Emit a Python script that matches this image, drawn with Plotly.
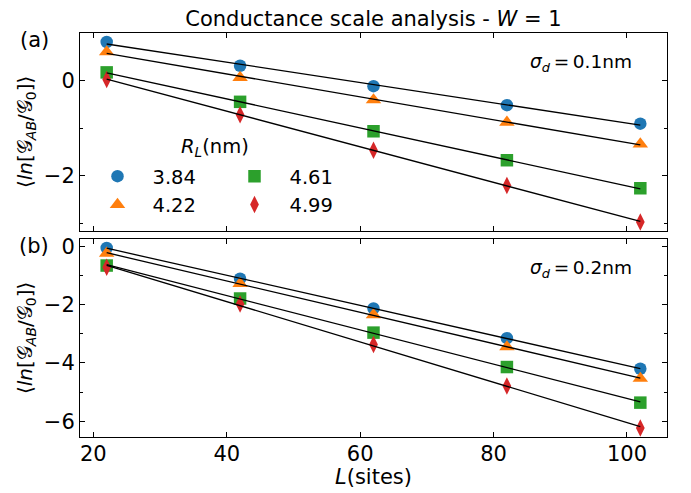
import numpy as np
import plotly.graph_objects as go
from plotly.subplots import make_subplots

# ---------------- data ----------------
L_sites = [22, 42, 62, 82, 102]
R_L_labels = ["3.84", "4.22", "4.61", "4.99"]

# panel (a): sigma_d = 0.1 nm
a_384 = [0.82, 0.32, -0.11, -0.51, -0.90]
a_422 = [0.61, 0.07, -0.40, -0.87, -1.33]
a_461 = [0.18, -0.44, -1.06, -1.67, -2.26]
a_499 = [0.03, -0.71, -1.46, -2.20, -2.97]

# panel (b): sigma_d = 0.2 nm
b_384 = [-0.06, -1.11, -2.13, -3.15, -4.20]
b_422 = [-0.24, -1.28, -2.35, -3.45, -4.53]
b_461 = [-0.66, -1.79, -2.96, -4.14, -5.36]
b_499 = [-0.72, -1.98, -3.37, -4.79, -6.23]

x_ticks = [20, 40, 60, 80, 100]
colors = ["#1f77b4", "#ff7f0e", "#2ca02c", "#d62728"]
symbols = ["circle", "triangle-up", "square", "diamond-tall"]
sizes = [12.5, 13.5, 12.5, 12.5]

FONT = "DejaVu Sans"
W, H = 691, 493
ML, MR, MT, MB = 80, 24, 33, 56
PH = H - MT - MB
PW = W - ML - MR

fig = make_subplots(rows=2, cols=1, shared_xaxes=True, vertical_spacing=0.02)

panels = [(1, [a_384, a_422, a_461, a_499]), (2, [b_384, b_422, b_461, b_499])]
for row, series in panels:
    for i, ys in enumerate(series):
        legend_name = "legend" if i < 2 else "legend2"
        fig.add_trace(go.Scatter(
            x=L_sites, y=ys, mode="markers", name=R_L_labels[i],
            marker=dict(color=colors[i], symbol=symbols[i], size=sizes[i], line=dict(width=0)),
            showlegend=(row == 1), legend=legend_name,
        ), row=row, col=1)
    for i, ys in enumerate(series):
        k, c = np.polyfit(L_sites, ys, 1)
        xs = np.array([L_sites[0], L_sites[-1]], dtype=float)
        fig.add_trace(go.Scatter(
            x=xs, y=k * xs + c, mode="lines", line=dict(color="black", width=1.3),
            showlegend=False, hoverinfo="skip",
        ), row=row, col=1)


def yrange(series):
    lo = min(min(s) for s in series)
    hi = max(max(s) for s in series)
    m = 0.05 * (hi - lo)
    return [lo - m, hi + m]


axis_common = dict(
    showline=True, linecolor="black", linewidth=1, mirror="allticks",
    ticks="inside", ticklen=5, tickwidth=1, tickcolor="black",
    showgrid=False, zeroline=False,
    tickfont=dict(family=FONT, size=21, color="black"),
)
for r in (1, 2):
    fig.update_xaxes(range=[18, 106], tickvals=x_ticks, row=r, col=1, **axis_common)
    fig.update_yaxes(
        dtick=2, tick0=0, row=r, col=1,
        minor=dict(dtick=1, tick0=0, ticks="inside", ticklen=3, tickwidth=1, tickcolor="black"),
        ticklabelstandoff=0, **axis_common,
    )
fig.update_xaxes(showticklabels=False, row=1, col=1)
fig.update_xaxes(ticklabelstandoff=-2, row=2, col=1)
fig.update_yaxes(range=yrange(panels[0][1]), row=1, col=1)
fig.update_yaxes(range=yrange(panels[1][1]), row=2, col=1)
fig.update_layout(yaxis=dict(domain=[0.51, 1.0]), yaxis2=dict(domain=[0.0, 0.49]))


def px_x(px):
    return (px - ML) / PW


def px_y(py):
    return (H - MB - py) / PH


ann = []
ylab = "⟨<i>ln</i>[𝒢<sub><i>AB</i></sub>/𝒢<sub>0</sub>]⟩"
for yc in (132, 338):
    ann.append(dict(text=ylab, x=px_x(26), y=px_y(yc), xref="paper", yref="paper",
                    showarrow=False, textangle=-90, xanchor="center", yanchor="middle",
                    font=dict(family=FONT, size=20, color="black")))
ann.append(dict(text="<i>L</i>(sites)", x=px_x(373.5), y=px_y(477), xref="paper", yref="paper",
                showarrow=False, xanchor="center", yanchor="middle",
                font=dict(family=FONT, size=21, color="black")))
ann.append(dict(text="(a)", x=px_x(34), y=px_y(40), xref="paper", yref="paper",
                showarrow=False, xanchor="center", yanchor="middle",
                font=dict(family=FONT, size=21, color="black")))
ann.append(dict(text="(b)", x=px_x(34), y=px_y(246), xref="paper", yref="paper",
                showarrow=False, xanchor="center", yanchor="middle",
                font=dict(family=FONT, size=21, color="black")))
sig = "<i>σ</i><sub><i>d</i></sub>\u2009=\u2009"
ann.append(dict(text=sig + "0.1nm", x=px_x(634), y=px_y(63), xref="paper", yref="paper",
                showarrow=False, xanchor="right", yanchor="middle",
                font=dict(family=FONT, size=18.5, color="black")))
ann.append(dict(text=sig + "0.2nm", x=px_x(634), y=px_y(269), xref="paper", yref="paper",
                showarrow=False, xanchor="right", yanchor="middle",
                font=dict(family=FONT, size=18.5, color="black")))
ann.append(dict(text="<i>R</i><sub><i>L</i></sub>(nm)", x=px_x(214.5), y=px_y(147), xref="paper", yref="paper",
                showarrow=False, xanchor="center", yanchor="middle",
                font=dict(family=FONT, size=19.5, color="black")))

legend_common = dict(
    xref="paper", yref="paper", xanchor="left", yanchor="top",
    bgcolor="rgba(0,0,0,0)", borderwidth=0, itemwidth=60,
    font=dict(family=FONT, size=19.5, color="black"), tracegroupgap=0,
)

fig.update_layout(
    width=W, height=H,
    margin=dict(l=ML, r=MR, t=MT, b=MB, autoexpand=False),
    paper_bgcolor="white", plot_bgcolor="white",
    title=dict(text="Conductance scale analysis - <i>W</i> = 1", x=373.5 / W, y=1 - 19 / H,
               xanchor="center", yanchor="middle", xref="container", yref="container",
               font=dict(family=FONT, size=21, color="black")),
    annotations=ann,
    legend=dict(x=px_x(82.5), y=px_y(157), **legend_common),
    legend2=dict(x=px_x(219.5), y=px_y(157), **legend_common),
    showlegend=True,
)

fig.write_html("out.html", config={"displayModeBar": False},
               post_script="document.body.style.margin='0';document.body.style.overflow='hidden';")
